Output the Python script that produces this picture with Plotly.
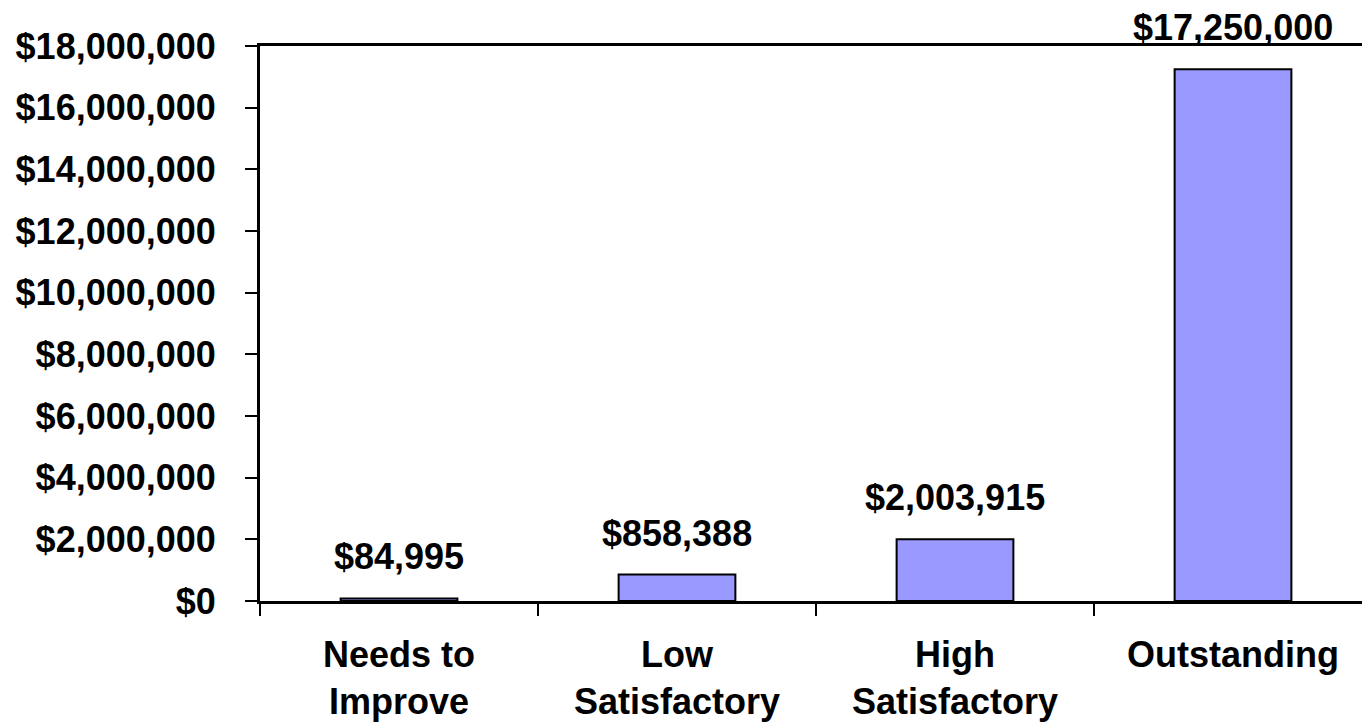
import plotly.graph_objects as go

# Category names and dollar totals
categories = ["Needs to<br>Improve", "Low<br>Satisfactory", "High<br>Satisfactory", "Outstanding"]
totals = [84995, 858388, 2003915, 17250000]
tick_values = [0, 2000000, 4000000, 6000000, 8000000, 10000000, 12000000, 14000000, 16000000, 18000000]

FONT = "Liberation Sans, Arial, sans-serif"

fig = go.Figure()
fig.add_trace(go.Bar(
    x=categories,
    y=totals,
    width=0.42,
    marker=dict(color="#9999FF", line=dict(color="black", width=2)),
    hoverinfo="skip",
))

# Dollar value labels above each bar
for cat, v in zip(categories, totals):
    fig.add_annotation(
        x=cat, y=v, xref="x", yref="y",
        text=f"${v:,.0f}",
        showarrow=False, yanchor="bottom", yshift=19,
        font=dict(family=FONT, size=36, color="black", weight="bold"),
    )

fig.update_layout(
    width=1362, height=723,
    margin=dict(l=260, r=0, t=46, b=122),
    paper_bgcolor="white", plot_bgcolor="white",
    showlegend=False,
    font=dict(family=FONT, color="black"),
)

fig.update_xaxes(
    type="category",
    range=[-0.5, 3.464],
    tickson="boundaries",
    ticks="outside", ticklen=12, tickwidth=1.5, tickcolor="black",
    showline=True, linecolor="black", linewidth=3, mirror=True,
    showgrid=False, zeroline=False,
    tickfont=dict(family=FONT, size=36, color="black", weight="bold"),
    ticklabelstandoff=20,
    fixedrange=True,
)

fig.update_yaxes(
    range=[0, 18000000],
    tickmode="array", tickvals=tick_values,
    ticktext=[f"${t:,.0f}" for t in tick_values],
    ticks="outside", ticklen=12, tickwidth=1.5, tickcolor="black",
    showline=True, linecolor="black", linewidth=3,
    showgrid=False, zeroline=False,
    tickfont=dict(family=FONT, size=36, color="black", weight="bold"),
    ticklabelstandoff=22,
    fixedrange=True,
)

fig.write_html("out.html")
